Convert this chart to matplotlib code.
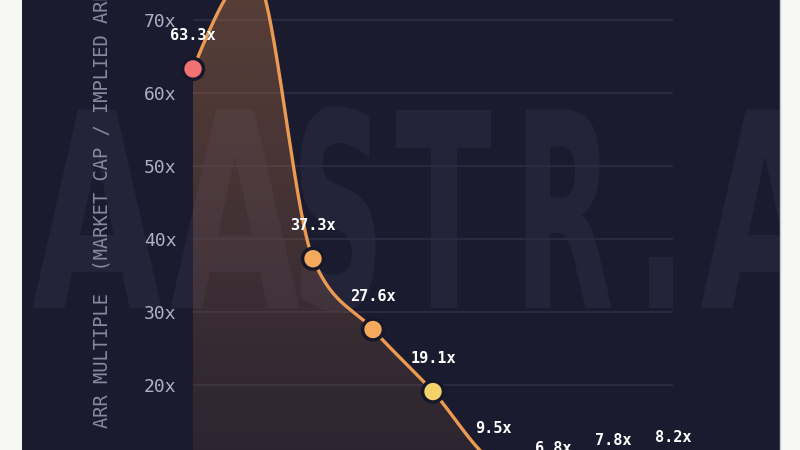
import numpy as np
import matplotlib
matplotlib.use("Agg")
import matplotlib.pyplot as plt
from matplotlib import patheffects
from matplotlib.patches import Polygon, Rectangle
from matplotlib.lines import Line2D
from matplotlib.transforms import Affine2D

# values (x axis labels are cropped out of the picture)
stage_idx = np.arange(9)
multiples = [63.3, 76.5, 37.3, 27.6, 19.1, 9.5, 6.8, 7.8, 8.2]
point_colors = ["#f07272", "#f07272", "#f5a95c", "#f5a95c", "#f5d36b",
                "#f5d36b", "#f5d36b", "#f5d36b", "#f5d36b"]
y_ticks = [10, 20, 30, 40, 50, 60, 70, 80]
y_title = "ARR MULTIPLE  (MARKET CAP / IMPLIED ARR)"
watermark = "AASTR.A"

BG = "#1b1b2f"
LINE = "#eb9a52"
MONO = ["DejaVu Sans Mono"]


def monotone_x(x, y, n=60):
    # same smoothing as d3.curveMonotoneX
    x = np.asarray(x, float)
    y = np.asarray(y, float)
    h = np.diff(x)
    s = np.diff(y) / h
    m = np.zeros(len(x))
    sgn = lambda v: -1.0 if v < 0 else 1.0
    for i in range(1, len(x) - 1):
        p = (s[i - 1] * h[i] + s[i] * h[i - 1]) / (h[i - 1] + h[i])
        m[i] = (sgn(s[i - 1]) + sgn(s[i])) * min(abs(s[i - 1]), abs(s[i]), 0.5 * abs(p))
    m[0] = (3 * s[0] - m[1]) / 2
    m[-1] = (3 * s[-1] - m[-2]) / 2
    xs, ys = [], []
    for i in range(len(x) - 1):
        t = np.linspace(0, 1, n, endpoint=(i == len(x) - 2))
        h00 = 2 * t**3 - 3 * t**2 + 1
        h10 = t**3 - 2 * t**2 + t
        h01 = -2 * t**3 + 3 * t**2
        h11 = t**3 - t**2
        xs.append(x[i] + t * h[i])
        ys.append(h00 * y[i] + h10 * h[i] * m[i] + h01 * y[i + 1] + h11 * h[i] * m[i + 1])
    return np.concatenate(xs), np.concatenate(ys)


class Squeeze(patheffects.AbstractPathEffect):
    """squash glyphs horizontally around x=cx (display px) - fake condensed font"""

    def __init__(self, sx, cx):
        super().__init__()
        self.sx, self.cx = sx, cx

    def draw_path(self, renderer, gc, tpath, affine, rgbFace=None):
        a = affine + Affine2D().translate(-self.cx, 0).scale(self.sx, 1).translate(self.cx, 0)
        renderer.draw_path(gc, tpath, a, rgbFace)


fig = plt.figure(figsize=(8, 4.5), dpi=100, facecolor=BG)

# big faint watermark behind the chart
wm_x = [97, 235, 338, 444, 564, 661, 765]
wm_sx = [0.62, 0.62, 0.48, 0.52, 0.48, 0.5, 0.62]
for ch, px, sx in zip(watermark, wm_x, wm_sx):
    fig.text(px / 800, 142 / 450, ch, ha="center", va="baseline",
             fontsize=196, fontweight="bold", color="#23233a",
             family="DejaVu Sans", zorder=-1,
             path_effects=[Squeeze(sx, px)])

ax = fig.add_axes([193 / 800, -81 / 450, 480 / 800, 657 / 450])
ax.set_facecolor("none")

for v in y_ticks:
    ax.axhline(v, color="#2c2c44", lw=1.2, zorder=0)

cx, cy = monotone_x(stage_idx, multiples)

# gradient area under the line
grad = np.zeros((256, 2, 4))
grad[..., :3] = matplotlib.colors.to_rgb("#e8904a")
vals = np.linspace(0, 90, 256)
grad[..., 3] = np.clip(0.05 + 0.0034 * vals, 0, 1)[:, None]
im = ax.imshow(grad, extent=[0, 8, 0, 90], origin="lower", aspect="auto", zorder=1)
clip = Polygon(np.column_stack([np.r_[cx, 8, 0], np.r_[cy, 0, 0]]),
               closed=True, transform=ax.transData, facecolor="none", edgecolor="none")
ax.add_patch(clip)
im.set_clip_path(clip)
ax.set_xlim(0, 8)
ax.set_ylim(0, 90)

ax.plot(cx, cy, color=LINE, lw=2.4, zorder=3, solid_capstyle="round")
ax.scatter(stage_idx, multiples, s=15**2, c=point_colors, edgecolors="#17172a",
           linewidths=2.5, zorder=4, clip_on=False)

for xi, v in zip(stage_idx, multiples):
    ax.annotate(f"{v}x", (xi, v), xytext=(0, 24), textcoords="offset points",
                ha="center", va="center", color="white", fontsize=11,
                fontweight="bold", family=MONO, zorder=5)

ax.set_yticks(y_ticks)
ax.set_yticklabels([f"{v}x" for v in y_ticks])
ax.set_xticks([])
ax.tick_params(axis="y", length=0, pad=12, labelsize=13, labelcolor="#b0b0c4")
for lab in ax.get_yticklabels():
    lab.set_family(MONO)
for sp in ax.spines.values():
    sp.set_visible(False)

fig.text(102 / 800, 22 / 450, y_title, rotation=90, ha="center", va="bottom",
         fontsize=13.5, color="#8888a2", family=MONO)

# white margins of the screenshot
fig.add_artist(Rectangle((0, 0), 22 / 800, 1, transform=fig.transFigure,
                         facecolor="#f7f7f4", edgecolor="none", zorder=10))
fig.add_artist(Rectangle((780 / 800, 0), 20 / 800, 1, transform=fig.transFigure,
                         facecolor="#f7f7f4", edgecolor="none", zorder=10))
fig.add_artist(Line2D([779.5 / 800] * 2, [0, 1], transform=fig.transFigure,
                      color="#c4c4d4", lw=1, zorder=11))

fig.savefig("out.png", dpi=100, facecolor=BG)
